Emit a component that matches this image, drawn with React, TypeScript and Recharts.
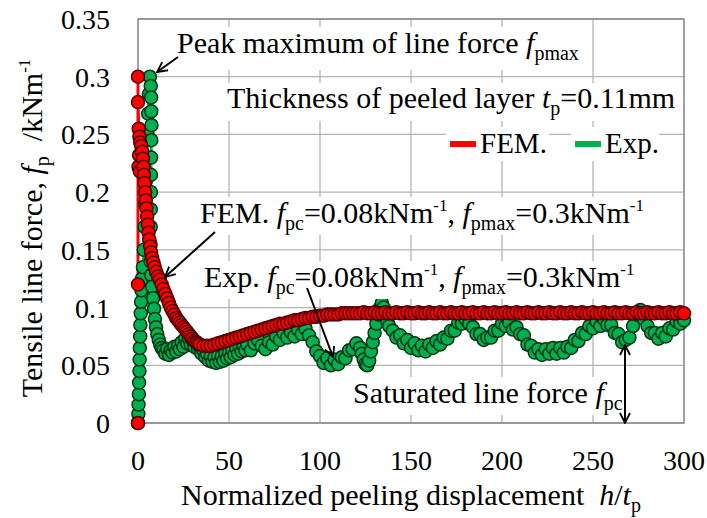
import React from 'react';
import { ComposedChart, Line, XAxis, YAxis, CartesianGrid, ReferenceArea, Label } from 'recharts';

const FONT = '"Liberation Serif", "Times New Roman", Times, serif';

const xTicks = [0, 50, 100, 150, 200, 250, 300];
const yTicks = [0, 0.05, 0.1, 0.15, 0.2, 0.25, 0.3, 0.35];

// FEM result, [h/tp, fp]
const femPoints: [number, number][] = [
  [0, 0], [0, 0.12], [0, 0.3], [0, 0.278], [0.4, 0.255], [0.8, 0.248], [1.2, 0.243], [0.6, 0.232],
  [0.3, 0.222], [1, 0.218], [1.8, 0.24], [2.3, 0.235], [2.7, 0.229], [3, 0.222], [3.3, 0.215],
  [3.6, 0.208], [4, 0.2], [4.3, 0.193], [4.6, 0.186], [5, 0.179], [5.4, 0.172], [5.8, 0.165],
  [6.2, 0.159], [6.7, 0.153], [7.2, 0.148], [7.8, 0.143], [8.5, 0.139], [9.2, 0.135], [10, 0.131],
  [11, 0.127], [12, 0.124], [13, 0.12], [14, 0.116], [15, 0.112], [16, 0.108], [17, 0.104],
  [18, 0.1], [19, 0.097], [20, 0.094], [21, 0.091], [22, 0.089], [23, 0.087], [24, 0.085],
  [25, 0.083], [26, 0.081], [27, 0.079], [28, 0.077], [29, 0.075], [30, 0.073], [31, 0.071],
  [32, 0.07], [33, 0.069], [34, 0.068], [36, 0.067], [38, 0.067], [40, 0.067], [42, 0.068],
  [44, 0.069], [46, 0.07], [48, 0.071], [50, 0.072], [52, 0.073], [54, 0.074], [56, 0.075],
  [58, 0.076], [60, 0.077], [62, 0.078], [64, 0.079], [66, 0.08], [68, 0.081], [70, 0.082],
  [72, 0.083], [74, 0.084], [76, 0.085], [78, 0.086], [80, 0.086], [82, 0.087], [84, 0.088],
  [86, 0.089], [88, 0.089], [90, 0.09], [92, 0.091], [94, 0.091], [96, 0.092], [98, 0.092],
  [100, 0.093], [102, 0.093], [104, 0.094], [106, 0.094], [108, 0.094], [110, 0.094], [112, 0.095],
  [114, 0.095], [116, 0.095], [118, 0.095], [120, 0.095], [122, 0.095], [124, 0.096], [126, 0.095],
  [128, 0.095], [130, 0.096], [132, 0.095], [134, 0.095], [136, 0.096], [138, 0.095], [140, 0.095],
  [142, 0.096], [144, 0.095], [146, 0.095], [148, 0.096], [150, 0.095], [152, 0.095], [154, 0.096],
  [156, 0.095], [158, 0.095], [160, 0.096], [162, 0.095], [164, 0.095], [166, 0.096], [168, 0.095],
  [170, 0.095], [172, 0.096], [174, 0.095], [176, 0.095], [178, 0.096], [180, 0.095], [182, 0.095],
  [184, 0.096], [186, 0.095], [188, 0.095], [190, 0.096], [192, 0.095], [194, 0.095], [196, 0.096],
  [198, 0.095], [200, 0.095], [202, 0.096], [204, 0.095], [206, 0.095], [208, 0.096], [210, 0.095],
  [212, 0.095], [214, 0.096], [216, 0.095], [218, 0.095], [220, 0.096], [222, 0.095], [224, 0.095],
  [226, 0.096], [228, 0.095], [230, 0.095], [232, 0.096], [234, 0.095], [236, 0.095], [238, 0.096],
  [240, 0.095], [242, 0.095], [244, 0.096], [246, 0.095], [248, 0.095], [250, 0.096], [252, 0.095],
  [254, 0.095], [256, 0.096], [258, 0.095], [260, 0.095], [262, 0.096], [264, 0.095], [266, 0.095],
  [268, 0.096], [270, 0.095], [272, 0.095], [274, 0.096], [276, 0.095], [278, 0.095], [280, 0.096],
  [282, 0.095], [284, 0.095], [286, 0.096], [288, 0.095], [290, 0.095], [292, 0.096], [294, 0.095],
  [296, 0.095], [298, 0.096], [300, 0.095],
];

// Experiment, [h/tp, fp]
const expPoints: [number, number][] = [
  [0, 0], [0.2, 0.008], [0.3, 0.016], [0.5, 0.025], [0.6, 0.035], [0.8, 0.045], [0.9, 0.055],
  [1, 0.065], [1.2, 0.075], [1.3, 0.085], [1.5, 0.095], [1.7, 0.105], [1.9, 0.115], [2.2, 0.125],
  [2.7, 0.135], [3.2, 0.15], [3.6, 0.17], [4, 0.19], [4.4, 0.21], [4.8, 0.23], [5.2, 0.25],
  [5.6, 0.268], [6, 0.285], [6.5, 0.3], [7, 0.292], [7.2, 0.282], [7.3, 0.27], [7.4, 0.258],
  [7.3, 0.245], [7.2, 0.23], [7.1, 0.215], [7.1, 0.2], [7, 0.185], [7, 0.17], [6.9, 0.155],
  [7, 0.14], [7.3, 0.128], [7.8, 0.118], [8.3, 0.108], [8.8, 0.099], [9.3, 0.09], [9.9, 0.083],
  [10.6, 0.077], [11.4, 0.072], [12.2, 0.068], [13, 0.065], [14, 0.063], [15, 0.06], [16, 0.064],
  [17, 0.059], [18, 0.063], [19, 0.061], [20, 0.066], [21, 0.062], [22, 0.067], [23, 0.064],
  [24, 0.07], [25, 0.066], [26, 0.073], [27, 0.069], [28, 0.073], [29, 0.068], [30, 0.072],
  [31, 0.066], [32, 0.07], [33, 0.064], [34, 0.066], [35, 0.06], [36, 0.063], [37, 0.057],
  [38, 0.06], [39, 0.054], [40, 0.058], [41, 0.053], [42, 0.057], [43, 0.052], [44, 0.058],
  [45, 0.053], [46, 0.058], [47, 0.054], [48, 0.06], [49, 0.056], [50, 0.061], [51, 0.057],
  [52, 0.063], [53, 0.059], [54, 0.065], [55, 0.06], [56, 0.066], [57, 0.062], [58, 0.067],
  [59, 0.063], [60, 0.068], [62, 0.063], [64, 0.069], [66, 0.072], [68, 0.067], [70, 0.064],
  [72, 0.07], [74, 0.068], [76, 0.075], [78, 0.072], [80, 0.078], [82, 0.074], [84, 0.079],
  [86, 0.075], [88, 0.081], [90, 0.077], [92, 0.082], [94, 0.076], [96, 0.07], [98, 0.062],
  [100, 0.058], [102, 0.052], [104, 0.056], [106, 0.05], [108, 0.055], [110, 0.051], [112, 0.057],
  [114, 0.056], [116, 0.063], [118, 0.064], [120, 0.069], [122, 0.065], [123, 0.06], [124, 0.055],
  [125, 0.051], [126, 0.05], [127, 0.054], [128, 0.062], [129, 0.07], [130, 0.078], [131, 0.086],
  [132, 0.094], [133, 0.1], [134, 0.104], [135, 0.1], [136, 0.094], [137, 0.088], [138, 0.084],
  [140, 0.08], [142, 0.074], [144, 0.076], [146, 0.069], [148, 0.072], [150, 0.065], [152, 0.069],
  [154, 0.063], [156, 0.067], [158, 0.062], [160, 0.068], [162, 0.065], [164, 0.071], [166, 0.068],
  [168, 0.074], [170, 0.073], [172, 0.08], [174, 0.08], [176, 0.087], [178, 0.086], [180, 0.09],
  [182, 0.086], [184, 0.083], [186, 0.077], [188, 0.077], [190, 0.072], [192, 0.074], [194, 0.074],
  [196, 0.08], [198, 0.08], [200, 0.086], [202, 0.084], [204, 0.087], [206, 0.081], [208, 0.083],
  [210, 0.077], [212, 0.076], [214, 0.068], [216, 0.067], [218, 0.061], [220, 0.064], [222, 0.059],
  [224, 0.064], [226, 0.06], [228, 0.065], [230, 0.06], [232, 0.065], [234, 0.061], [236, 0.066],
  [238, 0.065], [240, 0.072], [242, 0.071], [244, 0.078], [246, 0.077], [248, 0.084], [250, 0.082],
  [252, 0.088], [254, 0.084], [256, 0.09], [258, 0.085], [260, 0.085], [262, 0.078], [264, 0.077],
  [266, 0.07], [268, 0.072], [270, 0.074], [272, 0.084], [274, 0.094], [276, 0.098], [278, 0.09],
  [280, 0.084], [282, 0.078], [284, 0.078], [286, 0.073], [288, 0.078], [290, 0.075], [292, 0.082],
  [294, 0.081], [296, 0.088], [298, 0.086], [300, 0.089],
];

const femData = femPoints.map(([x, y]) => ({ x, y }));
const expData = expPoints.map(([x, y]) => ({ x, y }));

const FS = 30;
const SUB = 20;
const SUP = 17;
const fontStyle = { fontFamily: FONT };

const XTitle = ({ viewBox }: any) => {
  const cx = viewBox.x + viewBox.width / 2;
  return (
    <text x={cx} y={viewBox.y + 82} textAnchor="middle" style={fontStyle} fontSize={FS} fill="#000">
      {'Normalized peeling displacement\u00a0\u00a0'}
      <tspan fontStyle="italic">h</tspan>/<tspan fontStyle="italic">t</tspan>
      <tspan fontSize={SUB} dy={7}>p</tspan>
    </text>
  );
};

const YTitle = ({ viewBox }: any) => {
  const cy = viewBox.y + 209;
  const x = 42;
  return (
    <text x={x} y={cy} transform={`rotate(-90, ${x}, ${cy})`} textAnchor="middle" style={fontStyle} fontSize={FS} fill="#000">
      {'Tensile line force, '}
      <tspan fontStyle="italic">f</tspan>
      <tspan fontSize={SUB} dy={7}>p</tspan>
      <tspan dy={-7}>{'\u00a0\u00a0/kNm'}</tspan>
      <tspan fontSize={SUP} dy={-12}>-1</tspan>
    </text>
  );
};

// italic f with a subscript, used in the annotation lines
const Fsub = ({ s }: { s: string }) => (
  <>
    <tspan fontStyle="italic">f</tspan>
    <tspan fontSize={SUB} dy={7}>{s}</tspan>
  </>
);

const Overlay = () => (
  <svg width={707} height={518} style={{ position: 'absolute', left: 0, top: 0, pointerEvents: 'none', fontFamily: FONT }}>
    <defs>
      <marker id="vhead" viewBox="0 0 12 12" refX="11" refY="6" markerWidth="12" markerHeight="12" orient="auto-start-reverse" markerUnits="userSpaceOnUse">
        <path d="M1,1 L11,6 L1,11" fill="none" stroke="#000" strokeWidth={1.8} />
      </marker>
    </defs>
    <g style={fontStyle} fontSize={FS} fill="#000">
      <rect x={173} y={27} width={410} height={43} fill="#fff" />
      <text x={177} y={53} style={fontStyle}>
        {'Peak maximum of line force '}
        <Fsub s="pmax" />
      </text>

      <rect x={223} y={83} width={454} height={38} fill="#fff" />
      <text x={227} y={108} style={fontStyle}>
        {'Thickness of peeled layer '}
        <tspan fontStyle="italic">t</tspan>
        <tspan fontSize={SUB} dy={7}>p</tspan>
        <tspan dy={-7}>=0.11mm</tspan>
      </text>

      <rect x={446} y={127} width={103} height={34} fill="#fff" />
      <rect x={450} y={141} width={26} height={6} fill="#ff0000" />
      <text x={480} y={153} style={fontStyle} fontSize={29}>FEM.</text>
      <rect x={571} y={127} width={88} height={34} fill="#fff" />
      <rect x={575} y={141} width={26} height={6} fill="#00b050" />
      <text x={605} y={153} style={fontStyle} fontSize={29}>Exp.</text>

      <rect x={196} y={197} width={452} height={38} fill="#fff" />
      <text x={200} y={223} style={fontStyle}>
        {'FEM. '}
        <Fsub s="pc" />
        <tspan dy={-7}>=0.08kNm</tspan>
        <tspan fontSize={SUP} dy={-12}>-1</tspan>
        <tspan dy={12}>{', '}</tspan>
        <Fsub s="pmax" />
        <tspan dy={-7}>=0.3kNm</tspan>
        <tspan fontSize={SUP} dy={-12}>-1</tspan>
      </text>

      <rect x={200} y={261} width={436} height={38} fill="#fff" />
      <text x={204} y={287} style={fontStyle}>
        {'Exp. '}
        <Fsub s="pc" />
        <tspan dy={-7}>=0.08kNm</tspan>
        <tspan fontSize={SUP} dy={-12}>-1</tspan>
        <tspan dy={12}>{', '}</tspan>
        <Fsub s="pmax" />
        <tspan dy={-7}>=0.3kNm</tspan>
        <tspan fontSize={SUP} dy={-12}>-1</tspan>
      </text>

      <rect x={349} y={377} width={282} height={38} fill="#fff" />
      <text x={353} y={403} style={fontStyle}>
        {'Saturated line force '}
        <Fsub s="pc" />
      </text>
    </g>
    <g stroke="#000" strokeWidth={2} fill="none">
      <line x1={178} y1={57} x2={157} y2={72} markerEnd="url(#vhead)" />
      <line x1={215} y1={232} x2={165} y2={277} markerEnd="url(#vhead)" />
      <line x1={307} y1={288} x2={333} y2={357} markerEnd="url(#vhead)" />
      <line x1={625} y1={345} x2={625} y2={423} markerStart="url(#vhead)" markerEnd="url(#vhead)" />
    </g>
  </svg>
);

export default function App() {
  return (
    <div style={{ position: 'absolute', left: 0, top: 0, width: 707, height: 518, background: '#fff', fontFamily: FONT }}>
      <ComposedChart width={707} height={518} margin={{ top: 19, right: 23, bottom: 0, left: 0 }} style={fontStyle}>
        <CartesianGrid stroke="#b4b4b4" strokeWidth={1.3} />
        <XAxis
          type="number"
          dataKey="x"
          domain={[0, 300]}
          ticks={xTicks}
          height={95}
          axisLine={false}
          tickLine={false}
          tickSize={0}
          tickMargin={27}
          tick={{ fontSize: 28, fill: '#000', style: fontStyle }}
        >
          <Label content={<XTitle />} />
        </XAxis>
        <YAxis
          type="number"
          dataKey="y"
          domain={[0, 0.35]}
          ticks={yTicks}
          width={138}
          axisLine={false}
          tickLine={false}
          tickSize={0}
          tickMargin={28}
          tickFormatter={(v: number) => String(v)}
          tick={{ fontSize: 28, fill: '#000', style: fontStyle }}
        >
          <Label content={<YTitle />} />
        </YAxis>
        <ReferenceArea x1={0} x2={300} y1={0} y2={0.35} fill="none" stroke="#8a8a8a" strokeWidth={1.3} />
        <Line
          data={expData}
          dataKey="y"
          type="linear"
          stroke="#00b050"
          strokeWidth={3}
          dot={{ r: 6.5, fill: '#00b050', stroke: '#003514', strokeWidth: 1.5 }}
          isAnimationActive={false}
        />
        <Line
          data={femData}
          dataKey="y"
          type="linear"
          stroke="#ff0000"
          strokeWidth={3}
          dot={{ r: 6.5, fill: '#ff0000', stroke: '#500000', strokeWidth: 1.5 }}
          isAnimationActive={false}
        />
      </ComposedChart>
      <Overlay />
    </div>
  );
}
